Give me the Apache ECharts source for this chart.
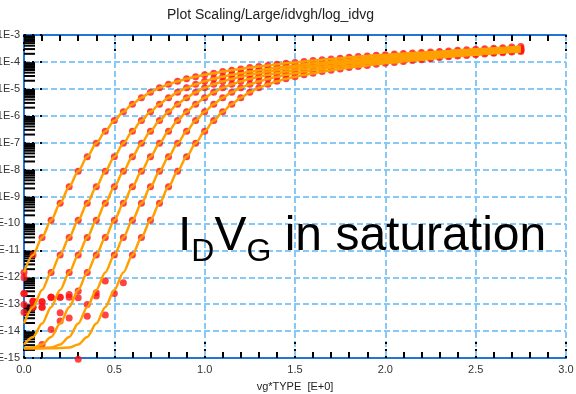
<!DOCTYPE html>
<html>
<head>
<meta charset="utf-8">
<script src="https://cdn.jsdelivr.net/npm/echarts@6/dist/echarts.min.js"></script>
<style>
  html, body { margin: 0; padding: 0; background: #fff; }
  #chart { width: 576px; height: 394px; }
</style>
</head>
<body>
<div id="chart"></div>
<script>
// Gate voltage sweep (vg*TYPE, V)
const vg = [0.00, 0.05, 0.10, 0.15, 0.20, 0.25, 0.30, 0.35, 0.40, 0.45,
            0.50, 0.55, 0.60, 0.65, 0.70, 0.75, 0.80, 0.85, 0.90, 0.95,
            1.00, 1.05, 1.10, 1.15, 1.20, 1.25, 1.30, 1.35, 1.40, 1.45,
            1.50, 1.55, 1.60, 1.65, 1.70, 1.75, 1.80, 1.85, 1.90, 1.95,
            2.00, 2.05, 2.10, 2.15, 2.20, 2.25, 2.30, 2.35, 2.40, 2.45,
            2.50, 2.55, 2.60, 2.65, 2.70, 2.75];

// Simulated drain current, log10(Id / A), one list per device
const simId1 = [-11.82, -11.17, -10.52, -9.88, -9.25, -8.64, -8.06, -7.52, -7.02, -6.58,
                -6.18, -5.85, -5.57, -5.33, -5.13, -4.96, -4.83, -4.72, -4.63, -4.55,
                -4.48, -4.42, -4.36, -4.31, -4.26, -4.21, -4.17, -4.13, -4.09, -4.05,
                -4.02, -3.98, -3.95, -3.92, -3.89, -3.86, -3.83, -3.80, -3.78, -3.75,
                -3.73, -3.71, -3.69, -3.67, -3.65, -3.63, -3.61, -3.59, -3.57, -3.55,
                -3.53, -3.51, -3.49, -3.47, -3.45, -3.43];
const simId2 = [-13.72, -13.11, -12.47, -11.82, -11.17, -10.52, -9.88, -9.25, -8.64, -8.06,
                -7.52, -7.02, -6.58, -6.18, -5.85, -5.57, -5.33, -5.13, -4.96, -4.83,
                -4.72, -4.63, -4.55, -4.48, -4.42, -4.36, -4.31, -4.26, -4.21, -4.17,
                -4.13, -4.09, -4.05, -4.02, -3.98, -3.95, -3.92, -3.89, -3.86, -3.83,
                -3.80, -3.78, -3.75, -3.73, -3.71, -3.69, -3.67, -3.65, -3.63, -3.61,
                -3.59, -3.57, -3.55, -3.53, -3.51, -3.49];
const simId3 = [-14.50, -14.22, -13.72, -13.11, -12.47, -11.82, -11.17, -10.52, -9.88, -9.25,
                -8.64, -8.06, -7.52, -7.02, -6.58, -6.18, -5.85, -5.57, -5.33, -5.13,
                -4.96, -4.83, -4.72, -4.63, -4.55, -4.48, -4.42, -4.36, -4.31, -4.26,
                -4.21, -4.17, -4.13, -4.09, -4.05, -4.02, -3.98, -3.95, -3.92, -3.89,
                -3.86, -3.83, -3.80, -3.78, -3.75, -3.73, -3.71, -3.69, -3.67, -3.65,
                -3.63, -3.61, -3.59, -3.57, -3.55, -3.53];
const simId4 = [-14.63, -14.61, -14.50, -14.22, -13.72, -13.11, -12.47, -11.82, -11.17, -10.52,
                -9.88, -9.25, -8.64, -8.06, -7.52, -7.02, -6.58, -6.18, -5.85, -5.57,
                -5.33, -5.13, -4.96, -4.83, -4.72, -4.63, -4.55, -4.48, -4.42, -4.36,
                -4.31, -4.26, -4.21, -4.17, -4.13, -4.09, -4.05, -4.02, -3.98, -3.95,
                -3.92, -3.89, -3.86, -3.83, -3.80, -3.78, -3.75, -3.73, -3.71, -3.69,
                -3.67, -3.65, -3.63, -3.61, -3.58, -3.56];
const simId5 = [-14.64, -14.64, -14.63, -14.61, -14.50, -14.22, -13.72, -13.11, -12.47, -11.82,
                -11.17, -10.52, -9.88, -9.25, -8.64, -8.06, -7.52, -7.02, -6.58, -6.18,
                -5.85, -5.57, -5.33, -5.13, -4.96, -4.83, -4.72, -4.63, -4.55, -4.48,
                -4.42, -4.36, -4.31, -4.26, -4.21, -4.17, -4.13, -4.09, -4.05, -4.02,
                -3.98, -3.95, -3.92, -3.89, -3.86, -3.83, -3.79, -3.76, -3.73, -3.71,
                -3.69, -3.67, -3.65, -3.62, -3.60, -3.58];
const simId6 = [-14.64, -14.64, -14.64, -14.64, -14.63, -14.61, -14.50, -14.22, -13.72, -13.11,
                -12.47, -11.82, -11.17, -10.52, -9.88, -9.25, -8.64, -8.06, -7.52, -7.02,
                -6.58, -6.18, -5.85, -5.57, -5.33, -5.13, -4.96, -4.83, -4.72, -4.63,
                -4.55, -4.48, -4.42, -4.36, -4.31, -4.26, -4.21, -4.17, -4.13, -4.09,
                -4.05, -4.02, -3.98, -3.95, -3.92, -3.88, -3.84, -3.81, -3.78, -3.76,
                -3.73, -3.71, -3.68, -3.66, -3.63, -3.61];

// Measured drain current, log10(Id / A); low-current points sit on the instrument noise floor
const measId1 = [-11.82, -11.17, -10.52, -9.88, -9.25, -8.64, -8.06, -7.52, -7.02, -6.58,
                 -6.18, -5.85, -5.57, -5.33, -5.13, -4.96, -4.83, -4.72, -4.63, -4.55,
                 -4.48, -4.42, -4.36, -4.31, -4.26, -4.21, -4.17, -4.13, -4.09, -4.05,
                 -4.02, -3.98, -3.95, -3.92, -3.89, -3.86, -3.83, -3.80, -3.78, -3.75,
                 -3.73, -3.71, -3.69, -3.67, -3.65, -3.63, -3.61, -3.59, -3.57, -3.55,
                 -3.53, -3.51, -3.49, -3.47, -3.45, -3.43];
const measId2 = [-12.02, -12.89, -12.91, -11.82, -11.17, -10.52, -9.88, -9.25, -8.64, -8.06,
                 -7.52, -7.02, -6.58, -6.18, -5.85, -5.57, -5.33, -5.13, -4.96, -4.83,
                 -4.72, -4.63, -4.55, -4.48, -4.42, -4.36, -4.31, -4.26, -4.21, -4.17,
                 -4.13, -4.09, -4.05, -4.02, -3.98, -3.95, -3.92, -3.89, -3.86, -3.83,
                 -3.80, -3.78, -3.75, -3.73, -3.71, -3.69, -3.67, -3.65, -3.63, -3.61,
                 -3.59, -3.57, -3.55, -3.53, -3.51, -3.49];
const measId3 = [-13.01, -13.11, -13.11, -12.74, -12.74, -11.82, -11.17, -10.52, -9.88, -9.25,
                 -8.64, -8.06, -7.52, -7.02, -6.58, -6.18, -5.85, -5.57, -5.33, -5.13,
                 -4.96, -4.83, -4.72, -4.63, -4.55, -4.48, -4.42, -4.36, -4.31, -4.26,
                 -4.21, -4.17, -4.13, -4.09, -4.05, -4.02, -3.98, -3.95, -3.92, -3.89,
                 -3.86, -3.83, -3.80, -3.78, -3.75, -3.73, -3.71, -3.69, -3.67, -3.65,
                 -3.63, -3.61, -3.59, -3.57, -3.55, -3.53];
const measId4 = [-12.60, -12.89, -14.50, -13.94, -13.32, -12.64, -12.51, -11.82, -11.17, -10.52,
                 -9.88, -9.25, -8.64, -8.06, -7.52, -7.02, -6.58, -6.18, -5.85, -5.57,
                 -5.33, -5.13, -4.96, -4.83, -4.72, -4.63, -4.55, -4.48, -4.42, -4.36,
                 -4.31, -4.26, -4.21, -4.17, -4.13, -4.09, -4.05, -4.02, -3.98, -3.95,
                 -3.92, -3.89, -3.86, -3.83, -3.80, -3.78, -3.75, -3.73, -3.71, -3.69,
                 -3.67, -3.65, -3.63, -3.61, -3.58, -3.56];
const measId5 = [-13.30, -13.11, -12.91, -12.74, -13.63, -12.74, -12.76, -13.01, -12.70, -12.14,
                 -11.17, -10.52, -9.88, -9.25, -8.64, -8.06, -7.52, -7.02, -6.58, -6.18,
                 -5.85, -5.57, -5.33, -5.13, -4.96, -4.83, -4.72, -4.63, -4.55, -4.48,
                 -4.42, -4.36, -4.31, -4.26, -4.21, -4.17, -4.13, -4.09, -4.05, -4.02,
                 -3.98, -3.95, -3.92, -3.89, -3.86, -3.83, -3.79, -3.76, -3.73, -3.71,
                 -3.69, -3.67, -3.65, -3.62, -3.60, -3.58];
const measId6 = [-12.60, -12.89, -13.11, -12.74, -12.74, -13.51, -15.05, -13.45, -12.58, -13.40,
                 -12.60, -12.20, -11.17, -10.52, -9.88, -9.25, -8.64, -8.06, -7.52, -7.02,
                 -6.58, -6.18, -5.85, -5.57, -5.33, -5.13, -4.96, -4.83, -4.72, -4.63,
                 -4.55, -4.48, -4.42, -4.36, -4.31, -4.26, -4.21, -4.17, -4.13, -4.09,
                 -4.05, -4.02, -3.98, -3.95, -3.92, -3.88, -3.84, -3.81, -3.78, -3.76,
                 -3.73, -3.71, -3.68, -3.66, -3.63, -3.61];

// Decade range of the current axis and the x sweep range
const yDecadeMin = -15;
const yDecadeMax = -3;
const xMin = 0;
const xMax = 3;

const simSets = [simId1, simId2, simId3, simId4, simId5, simId6];
const measSets = [measId1, measId2, measId3, measId4, measId5, measId6];

// Log-style minor ticks (2..9 within each decade) for the current axis
const minorTickLevels = [];
for (let d = yDecadeMin; d < yDecadeMax; d++) {
  for (let k = 2; k <= 9; k++) minorTickLevels.push([xMin, d + Math.log10(k)]);
}

const FONT = 'Arial, "Liberation Sans", Helvetica, sans-serif';
const FRAME = '#2473d6';
const GRID_LINE = '#86c9f7';

function toPairs(ys) {
  return vg.map(function (v, i) { return [v, ys[i]]; });
}

const series = [];

series.push({
  type: 'custom',
  name: 'minor ticks',
  silent: true,
  z: 3,
  data: minorTickLevels,
  renderItem: function (params, api) {
    const p = api.coord([api.value(0), api.value(1)]);
    return {
      type: 'line',
      shape: { x1: p[0], y1: p[1], x2: p[0] + 11, y2: p[1] },
      style: { stroke: '#000', lineWidth: 2 }
    };
  }
});

measSets.forEach(function (ys, i) {
  series.push({
    type: 'scatter',
    name: 'measured ' + (i + 1),
    data: toPairs(ys),
    symbol: 'circle',
    symbolSize: 7,
    clip: false,
    z: 4,
    itemStyle: { color: '#ff1414' }
  });
});

simSets.forEach(function (ys, i) {
  series.push({
    type: 'line',
    name: 'simulated ' + (i + 1),
    data: toPairs(ys),
    showSymbol: false,
    smooth: 0.3,
    smoothMonotone: 'x',
    z: 5,
    lineStyle: { color: '#ffa000', width: 2.5 }
  });
});

const chart = echarts.init(document.getElementById('chart'), null, { renderer: 'canvas' });

chart.setOption({
  animation: false,
  backgroundColor: '#fff',
  title: {
    text: 'Plot Scaling/Large/idvgh/log_idvg',
    left: 167,
    top: 8,
    padding: 0,
    textStyle: { fontSize: 14, fontWeight: 'normal', color: '#222', fontFamily: FONT }
  },
  grid: { left: 24, right: 10, top: 35, bottom: 36, show: false,
          containLabel: false, outerBoundsMode: 'none' },
  xAxis: [{
    type: 'value',
    position: 'bottom',
    min: xMin,
    max: xMax,
    interval: 0.5,
    name: 'vg*TYPE  [E+0]',
    nameLocation: 'middle',
    nameGap: 23,
    nameTextStyle: { fontSize: 11, color: '#222', fontFamily: FONT },
    axisLine: { show: true, lineStyle: { color: FRAME, width: 2 } },
    axisTick: { show: true, inside: true, length: 18, lineStyle: { color: '#000', width: 2, type: [2, 5] } },
    minorTick: { show: true, splitNumber: 5, length: 6, lineStyle: { color: '#000', width: 2 } },
    splitLine: { show: true, lineStyle: { color: GRID_LINE, width: 2, type: [6, 3] } },
    axisLabel: { fontSize: 11, color: '#333', margin: 6, fontFamily: FONT,
                 formatter: function (v) { return v.toFixed(1); } }
  }, {
    type: 'value',
    position: 'top',
    min: xMin,
    max: xMax,
    interval: 0.5,
    axisLine: { show: true, lineStyle: { color: FRAME, width: 2 } },
    axisTick: { show: true, inside: true, length: 18, lineStyle: { color: '#000', width: 2, type: [2, 5] } },
    minorTick: { show: true, splitNumber: 5, length: 6, lineStyle: { color: '#000', width: 2 } },
    splitLine: { show: false },
    axisLabel: { show: false }
  }],
  yAxis: [{
    type: 'value',
    position: 'left',
    min: yDecadeMin,
    max: yDecadeMax,
    interval: 1,
    axisLine: { show: true, lineStyle: { color: FRAME, width: 2 } },
    axisTick: { show: true, inside: true, length: 20, lineStyle: { color: '#000', width: 2, type: [2, 6] } },
    splitLine: { show: true, lineStyle: { color: GRID_LINE, width: 2, type: [6, 3] } },
    axisLabel: { fontSize: 11, color: '#333', margin: 4, fontFamily: FONT,
                 formatter: function (v) { return '1E' + v; } }
  }, {
    type: 'value',
    position: 'right',
    min: yDecadeMin,
    max: yDecadeMax,
    interval: 1,
    axisLine: { show: true, lineStyle: { color: FRAME, width: 2 } },
    axisTick: { show: false },
    splitLine: { show: false },
    axisLabel: { show: false }
  }],
  graphic: [{
    type: 'text',
    left: 178,
    top: 213,
    z: 10,
    style: {
      text: '{m|I}{s|D}{m|V}{s|G}{m| in saturation}',
      fill: '#000',
      rich: {
        m: { fontSize: 48, lineHeight: 62, fontFamily: FONT, fill: '#000' },
        s: { fontSize: 32, verticalAlign: 'bottom', fontFamily: FONT, fill: '#000' }
      }
    }
  }],
  series: series
});
</script>
</body>
</html>
